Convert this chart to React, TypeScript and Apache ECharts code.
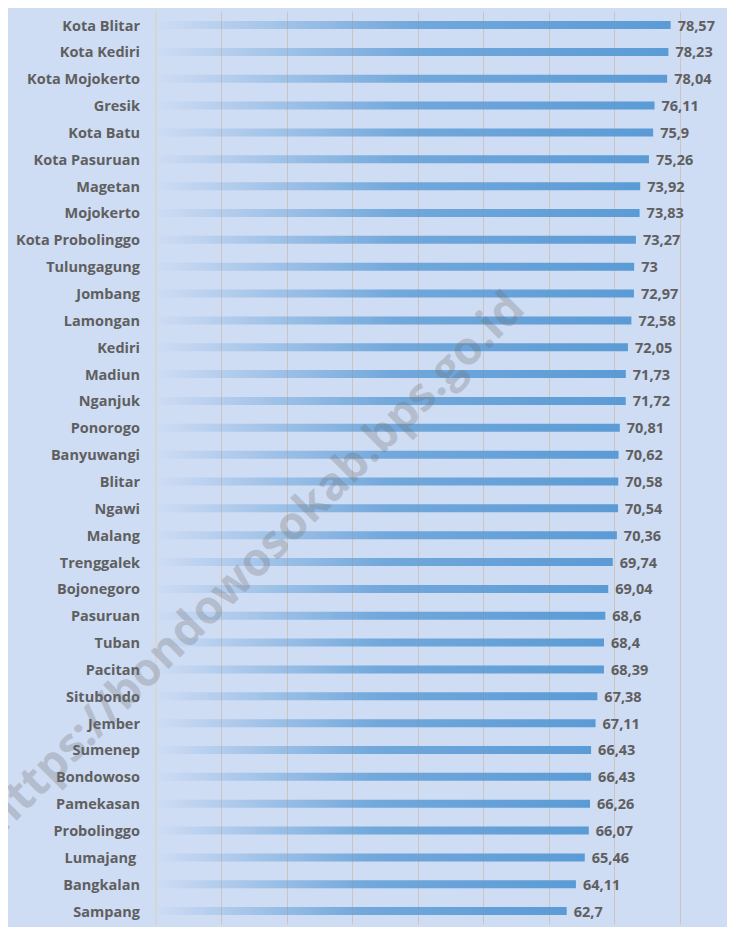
import React, { useEffect, useRef } from "react";
import * as echarts from "echarts";

const categories = [
  "Kota Blitar", "Kota Kediri", "Kota Mojokerto", "Gresik", "Kota Batu",
  "Kota Pasuruan", "Magetan", "Mojokerto", "Kota Probolinggo", "Tulungagung",
  "Jombang", "Lamongan", "Kediri", "Madiun", "Nganjuk", "Ponorogo",
  "Banyuwangi", "Blitar", "Ngawi", "Malang", "Trenggalek", "Bojonegoro",
  "Pasuruan", "Tuban", "Pacitan", "Situbondo", "Jember", "Sumenep",
  "Bondowoso", "Pamekasan", "Probolinggo", "Lumajang ", "Bangkalan", "Sampang",
];

const values = [
  78.57, 78.23, 78.04, 76.11, 75.9, 75.26, 73.92, 73.83, 73.27, 73,
  72.97, 72.58, 72.05, 71.73, 71.72, 70.81, 70.62, 70.58, 70.54, 70.36,
  69.74, 69.04, 68.6, 68.4, 68.39, 67.38, 67.11, 66.43, 66.43, 66.26,
  66.07, 65.46, 64.11, 62.7,
];

const watermark = "https://bondowosokab.bps.go.id";

export default function App() {
  const ref = useRef<HTMLDivElement>(null);
  useEffect(() => {
    if (!ref.current) return;
    const chart = echarts.init(ref.current, null, { renderer: "svg" });
    const font = "'Open Sans', 'Noto Sans', sans-serif";
    chart.setOption({
      animation: false,
      backgroundColor: "#cedcf4",
      grid: { left: 148, right: 55, top: 3.6, bottom: 2.5, containLabel: false },
      xAxis: {
        type: "value",
        min: 0,
        max: 80,
        interval: 10,
        axisLabel: { show: false },
        axisLine: { show: false },
        axisTick: { show: false },
        splitLine: { show: true, lineStyle: { color: "#cdc5bb", width: 1 } },
      },
      yAxis: {
        type: "category",
        data: categories,
        inverse: true,
        axisLine: { show: true, lineStyle: { color: "#d6d6d6", width: 2 } },
        axisTick: { show: false },
        axisLabel: {
          color: "#5f5f5f",
          fontWeight: "bold",
          fontSize: 14.5,
          fontFamily: font,
          margin: 16,
        },
      },
      series: [
        {
          type: "bar",
          data: values,
          barWidth: 8,
          itemStyle: {
            color: new echarts.graphic.LinearGradient(0, 0, 1, 0, [
              { offset: 0, color: "rgba(91,155,213,0.0)" },
              { offset: 0.5, color: "rgba(91,155,213,0.8)" },
              { offset: 1, color: "#5b9bd5" },
            ]),
          },
          label: {
            show: true,
            position: "right",
            distance: 7,
            color: "#5f5f5f",
            fontWeight: "bold",
            fontSize: 14.5,
            fontFamily: font,
            formatter: (p: any) => String(p.value).replace(".", ","),
          },
        },
      ],
      graphic: [
        {
          type: "text",
          x: 244,
          y: 552,
          rotation: Math.PI / 4,
          z: 100,
          silent: true,
          style: {
            text: watermark,
            fontSize: 46,
            fontWeight: "bold",
            fontFamily: font,
            fill: "rgba(110,110,110,0.3)",
            align: "center",
            verticalAlign: "middle",
          },
        },
      ],
    });
    return () => chart.dispose();
  }, []);
  return <div ref={ref} style={{ width: 727, height: 919 }} />;
}
